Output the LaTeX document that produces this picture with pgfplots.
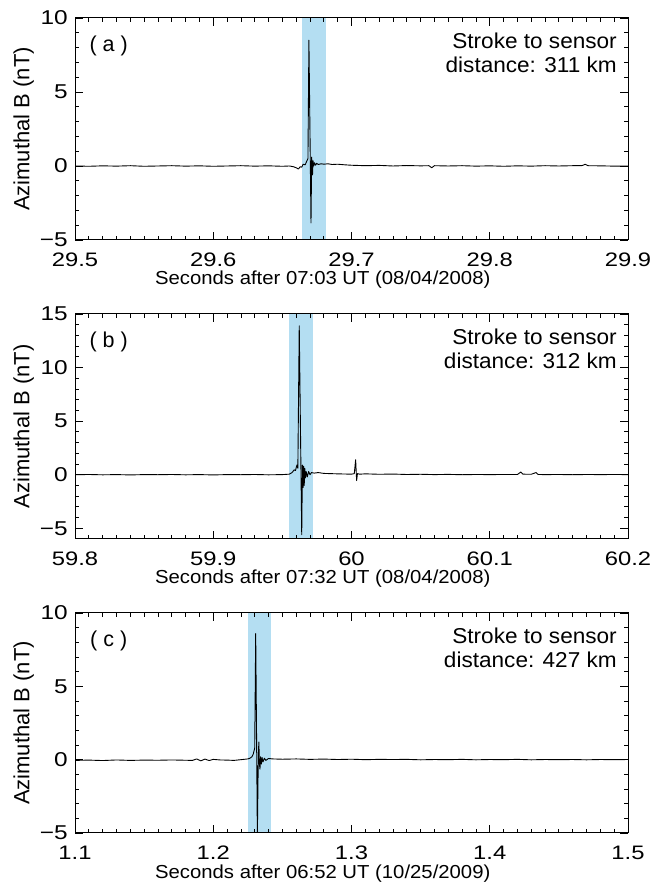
\documentclass[border=0pt]{standalone}
\usepackage{fontspec}
\setmainfont{Liberation Sans}
\newfontfamily\tickfont{Liberation Sans}[FakeStretch=1.22]
\newfontfamily\labfont{Liberation Sans}[FakeStretch=1.08]
\newfontfamily\annfont{Liberation Sans}[FakeStretch=1.05]
\usepackage{pgfplots}
\pgfplotsset{compat=1.18}
\definecolor{bandblue}{RGB}{180,222,242}
\pgfplotsset{
  panel/.style={
    scale only axis, width=553pt,
    axis on top,
    axis line style={line width=1pt, black},
    every tick/.style={line width=0.8pt, black},
    major tick length=8pt, minor tick length=4pt,
    minor x tick num=9, minor y tick num=4,
    xticklabel style={font=\tickfont\fontsize{19.5}{20}\selectfont, anchor=base, inner sep=0pt, yshift=-27pt},
    yticklabel style={font=\tickfont\fontsize{20}{20}\selectfont, anchor=east, inner sep=0pt, xshift=-7pt},
    xlabel style={font=\labfont\fontsize{18.8}{20}\selectfont, at={(axis description cs:0.448,0)}, anchor=base, inner sep=0pt, yshift=-45pt},
    ylabel style={font=\fontsize{22}{22}\selectfont, at={(axis description cs:-0.093,0.5)}, anchor=center, inner sep=0pt},
    ylabel={Azimuthal B (nT)},
  },
  sig/.style={black, line width=0.9pt, line join=round, mark=none},
}
\begin{document}
\begin{tikzpicture}[x=1pt,y=1pt]
\path[use as bounding box] (0,0) rectangle (653,890);

% ---------------- panel (a)
\begin{axis}[panel, at={(75pt,650pt)}, anchor=south west, height=222pt,
  xmin=29.5, xmax=29.9, ymin=-5, ymax=10,
  xtick={29.5,29.6,29.7,29.8,29.9}, xticklabels={29.5,29.6,29.7,29.8,29.9},
  ytick={-5,0,5,10}, yticklabels={−5,0,5,10},
  xlabel={Seconds after 07:03 UT (08/04/2008)}]
\addplot[fill=bandblue, draw=none] coordinates {(29.664,-5) (29.6813,-5) (29.6813,10) (29.664,10)} -- cycle;
\addplot[sig] coordinates {
(29.500,0.00) (29.510,-0.02) (29.520,0.01) (29.530,-0.01) (29.540,0.02) (29.550,-0.02)
(29.560,0.00) (29.570,0.02) (29.580,-0.01) (29.590,0.01) (29.600,-0.02) (29.610,0.00)
(29.620,0.02) (29.630,-0.01) (29.640,0.01) (29.650,-0.02) (29.655,0.00) (29.658,-0.05)
(29.660,-0.12) (29.6615,-0.2) (29.663,-0.05) (29.664,-0.08) (29.665,0.12) (29.6665,0.08)
(29.6675,0.3) (29.6685,0.5) (29.6692,8.5) (29.6700,2.0) (29.6707,-3.85) (29.6712,0.6)
(29.6718,-0.6) (29.6722,0.35) (29.6727,0.0) (29.6732,0.22) (29.674,0.05) (29.6748,0.18)
(29.676,0.1) (29.678,0.15) (29.680,0.12) (29.683,0.15) (29.686,0.1) (29.690,0.12)
(29.695,0.08) (29.700,0.05) (29.710,0.02) (29.720,0.04) (29.730,0.00) (29.740,0.03)
(29.750,0.01) (29.756,0.02) (29.758,-0.12) (29.760,0.02) (29.770,0.00) (29.780,0.02)
(29.790,-0.01) (29.800,0.01) (29.810,-0.02) (29.820,0.01) (29.830,-0.01) (29.840,0.02)
(29.850,0.00) (29.860,0.02) (29.867,0.03) (29.869,0.12) (29.871,0.02) (29.880,0.01)
(29.890,-0.01) (29.900,0.00)
};
\node[font=\fontsize{21.5}{22}\selectfont, anchor=center] at (rel axis cs:0.061,0.874) {( a )};
\node[font=\annfont\fontsize{21.5}{22}\selectfont, anchor=base east, inner sep=0pt] at ([yshift=-31pt]rel axis cs:0.98,1) {Stroke to sensor};
\node[font=\annfont\fontsize{21.5}{22}\selectfont, anchor=base east, inner sep=0pt] at ([yshift=-55pt]rel axis cs:0.98,1) {distance: 311 km};
\end{axis}

% ---------------- panel (b)
\begin{axis}[panel, at={(75pt,351pt)}, anchor=south west, height=225pt,
  xmin=59.8, xmax=60.2, ymin=-6, ymax=15,
  xtick={59.8,59.9,60.0,60.1,60.2}, xticklabels={59.8,59.9,60,60.1,60.2},
  ytick={-5,0,5,10,15}, yticklabels={−5,0,5,10,15},
  xlabel={Seconds after 07:32 UT (08/04/2008)}]
\addplot[fill=bandblue, draw=none] coordinates {(59.955,-6) (59.9724,-6) (59.9724,15) (59.955,15)} -- cycle;
\addplot[sig] coordinates {
(59.800,0.00) (59.810,0.02) (59.820,-0.01) (59.830,0.01) (59.840,-0.02) (59.850,0.01)
(59.860,0.00) (59.870,0.02) (59.880,-0.01) (59.890,0.01) (59.900,-0.02) (59.910,0.01)
(59.920,0.00) (59.930,0.02) (59.940,-0.01) (59.950,0.01) (59.955,0.05) (59.957,0.2)
(59.9585,0.45) (59.9595,0.4) (59.9605,0.9) (59.9612,0.6) (59.9622,13.9) (59.9632,3.0)
(59.9640,-5.6) (59.9645,0.9) (59.9650,-1.2) (59.9654,0.8) (59.9658,-1.0) (59.9662,0.6)
(59.9667,-0.3) (59.9672,0.3) (59.968,-0.2) (59.969,0.3) (59.970,0.0) (59.971,0.2)
(59.973,0.15) (59.976,0.2) (59.980,0.12) (59.990,0.08) (60.000,0.05) (60.002,0.1)
(60.0030,1.4) (60.0037,-0.55) (60.0043,0.1) (60.006,0.05) (60.010,0.08) (60.020,0.04)
(60.030,0.06) (60.040,0.02) (60.050,0.04) (60.060,0.01) (60.070,0.03) (60.080,0.00)
(60.090,0.02) (60.100,0.01) (60.110,0.02) (60.120,0.02) (60.1225,0.25) (60.124,0.05)
(60.130,0.04) (60.1335,0.2) (60.135,0.02) (60.140,0.01) (60.150,0.02) (60.160,0.00)
(60.170,0.02) (60.180,0.01) (60.190,0.02) (60.200,0.01)
};
\node[font=\fontsize{21.5}{22}\selectfont, anchor=center] at (rel axis cs:0.061,0.874) {( b )};
\node[font=\annfont\fontsize{21.5}{22}\selectfont, anchor=base east, inner sep=0pt] at ([yshift=-31pt]rel axis cs:0.98,1) {Stroke to sensor};
\node[font=\annfont\fontsize{21.5}{22}\selectfont, anchor=base east, inner sep=0pt] at ([yshift=-55pt]rel axis cs:0.98,1) {distance: 312 km};
\end{axis}

% ---------------- panel (c)
\begin{axis}[panel, at={(75pt,57pt)}, anchor=south west, height=220pt,
  xmin=1.1, xmax=1.5, ymin=-5, ymax=10,
  xtick={1.1,1.2,1.3,1.4,1.5}, xticklabels={1.1,1.2,1.3,1.4,1.5},
  ytick={-5,0,5,10}, yticklabels={−5,0,5,10},
  xlabel={Seconds after 06:52 UT (10/25/2009)}]
\addplot[fill=bandblue, draw=none] coordinates {(1.2251,-5) (1.2416,-5) (1.2416,10) (1.2251,10)} -- cycle;
\addplot[sig] coordinates {
(1.100,-0.05) (1.110,-0.03) (1.120,-0.06) (1.130,-0.02) (1.140,-0.05) (1.150,-0.03)
(1.160,-0.04) (1.170,-0.02) (1.180,-0.04) (1.185,-0.05) (1.188,0.05) (1.191,-0.08)
(1.194,0.04) (1.197,-0.06) (1.200,0.02) (1.205,-0.02) (1.210,-0.03) (1.215,-0.05)
(1.220,0.0) (1.225,0.05) (1.2266,0.1) (1.2280,0.2) (1.2290,0.4) (1.2300,0.8)
(1.2307,8.6) (1.2313,2.0) (1.2319,-5.2) (1.2326,0.3) (1.2330,1.2) (1.2334,-0.3)
(1.2338,-0.65) (1.2342,0.2) (1.2348,-0.3) (1.2353,0.15) (1.2360,-0.15) (1.2370,0.1)
(1.2380,-0.05) (1.2400,0.08) (1.2430,0.05) (1.2500,0.03) (1.2600,0.05) (1.2700,0.02)
(1.2800,0.04) (1.2900,0.01) (1.3000,0.03) (1.3100,0.00) (1.3200,0.02) (1.3300,0.01)
(1.3400,0.02) (1.3500,-0.01) (1.3600,0.01) (1.3700,0.00) (1.3800,0.02) (1.3900,-0.01)
(1.4000,0.01) (1.4100,0.00) (1.4200,0.02) (1.4300,-0.01) (1.4400,0.01) (1.4500,0.00)
(1.4600,0.01) (1.4700,-0.01) (1.4800,0.01) (1.4900,0.00) (1.5000,0.01)
};
\node[font=\fontsize{21.5}{22}\selectfont, anchor=center] at (rel axis cs:0.061,0.874) {( c )};
\node[font=\annfont\fontsize{21.5}{22}\selectfont, anchor=base east, inner sep=0pt] at ([yshift=-31pt]rel axis cs:0.98,1) {Stroke to sensor};
\node[font=\annfont\fontsize{21.5}{22}\selectfont, anchor=base east, inner sep=0pt] at ([yshift=-55pt]rel axis cs:0.98,1) {distance: 427 km};
\end{axis}
\end{tikzpicture}
\end{document}
